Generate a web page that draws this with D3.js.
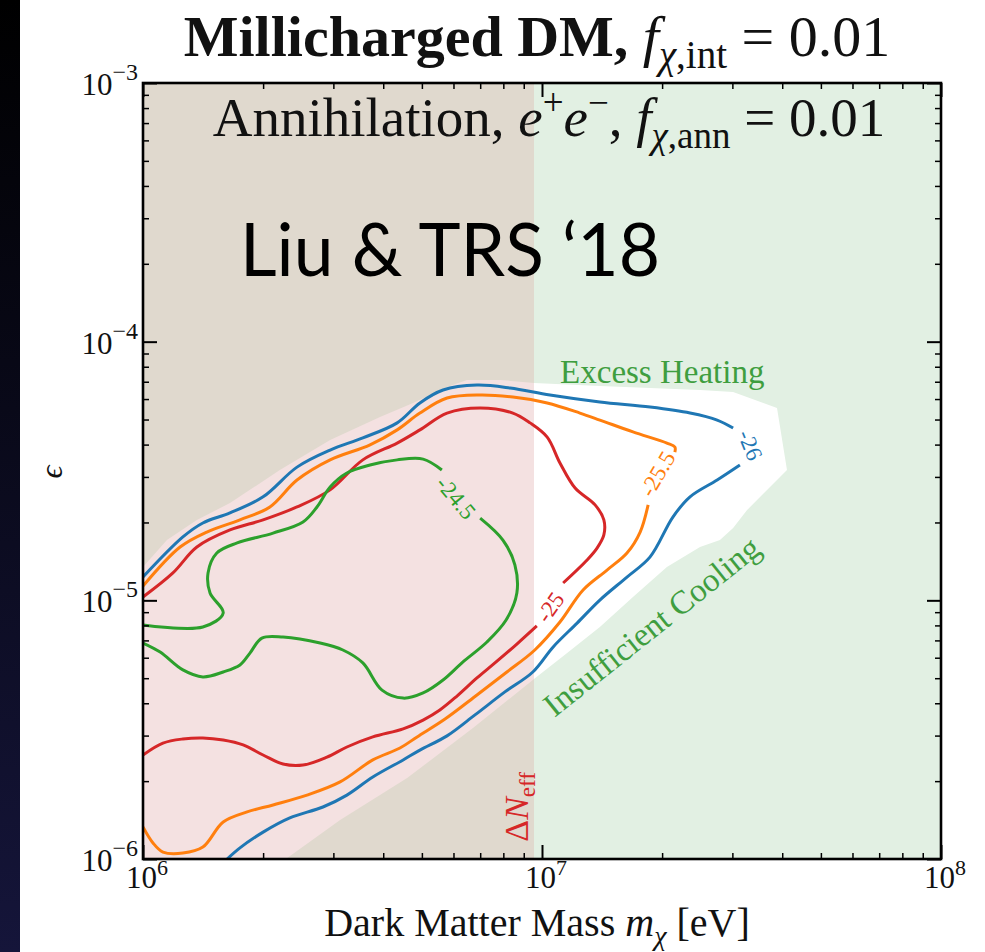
<!DOCTYPE html>
<html>
<head>
<meta charset="utf-8">
<script src="https://cdn.jsdelivr.net/npm/d3@7"></script>
<style>
  body { margin: 0; background: #fff; }
  svg { display: block; }
  text { font-family: "Liberation Serif", "DejaVu Serif", serif; }
</style>
</head>
<body>
<svg id="chart" width="985" height="952"></svg>
<script>
// ---- axis ticks ----
const xMajorTicks = [1e6, 1e7, 1e8];
const xTickExponents = ["6", "7", "8"];
const yMajorTicks = [1e-6, 1e-5, 1e-4, 1e-3];
const yTickExponents = ["\u22126", "\u22125", "\u22124", "\u22123"];

// ---- regions ----
// masses below this are excluded by Delta N_eff
const nEffMassBound = 9.55e6;

// allowed region outline, [log10 m/eV, log10 eps]
const allowedRegion = [
  [6.000,-4.871],[6.060,-4.767],[6.135,-4.689],[6.218,-4.624],[6.343,-4.496],[6.469,-4.380],
  [6.594,-4.291],[6.677,-4.237],[6.762,-4.175],[6.812,-4.148],[6.895,-4.148],[6.980,-4.160],
  [7.145,-4.171],[7.271,-4.179],[7.396,-4.187],[7.479,-4.195],[7.589,-4.256],[7.614,-4.496],
  [7.564,-4.573],[7.514,-4.651],[7.479,-4.720],[7.446,-4.767],[7.396,-4.794],[7.313,-4.871],
  [7.228,-4.987],[7.145,-5.103],[7.063,-5.204],[6.977,-5.308],[6.827,-5.494],[6.662,-5.687],
  [6.494,-5.849],[6.358,-6.000],[6.000,-6.000]
];

// ---- contours of log10 <sigma v>, [log10 m/eV, log10 eps]; null = label gap ----
const levels = ["-26", "-25.5", "-25", "-24.5"];
const levelColors = ["#1f77b4", "#ff7f0e", "#d62728", "#2ca02c"];

const contour260 = [
  [6.000,-4.910],[6.100,-4.755],[6.150,-4.701],[6.218,-4.662],[6.301,-4.600],[6.386,-4.485],
  [6.469,-4.419],[6.551,-4.372],[6.637,-4.314],[6.694,-4.237],[6.752,-4.187],[6.837,-4.168],
  [6.920,-4.179],[7.020,-4.206],[7.145,-4.233],[7.271,-4.253],[7.371,-4.276],[7.439,-4.303],
  [7.479,-4.334], null,
  [7.496,-4.477],[7.439,-4.535],[7.371,-4.600],[7.328,-4.678],[7.271,-4.832],[7.213,-4.910],
  [7.145,-4.999],[7.088,-5.088],[7.028,-5.180],[6.977,-5.277],[6.907,-5.354],[6.832,-5.443],
  [6.762,-5.524],[6.694,-5.579],[6.652,-5.617],[6.576,-5.683],[6.511,-5.753],[6.451,-5.799],
  [6.368,-5.841],[6.301,-5.896],[6.243,-5.957],[6.211,-6.000]
];

const contour255 = [
  [6.000,-4.945],[6.093,-4.794],[6.160,-4.736],[6.243,-4.689],[6.318,-4.639],[6.386,-4.535],
  [6.469,-4.457],[6.569,-4.399],[6.637,-4.341],[6.694,-4.276],[6.762,-4.218],[6.845,-4.206],
  [6.927,-4.214],[7.013,-4.237],[7.095,-4.276],[7.145,-4.303],[7.228,-4.349],[7.313,-4.392],
  [7.333,-4.407],[7.333,-4.427], null,
  [7.266,-4.631],[7.246,-4.736],[7.213,-4.817],[7.163,-4.883],[7.103,-4.960],[7.045,-5.084],
  [6.982,-5.192],[6.912,-5.277],[6.837,-5.366],[6.757,-5.459],[6.687,-5.528],[6.644,-5.571],
  [6.576,-5.617],[6.494,-5.702],[6.411,-5.753],[6.326,-5.791],[6.261,-5.818],[6.201,-5.857],
  [6.150,-5.954],[6.100,-5.977],[6.050,-5.973],[6.025,-5.938],[6.000,-5.876]
];

const contour250 = [
  [6.000,-4.987],[6.075,-4.894],[6.135,-4.794],[6.218,-4.728],[6.301,-4.689],[6.386,-4.639],
  [6.469,-4.573],[6.551,-4.457],[6.637,-4.392],[6.694,-4.341],[6.762,-4.276],[6.845,-4.256],
  [6.927,-4.276],[6.970,-4.314],[7.013,-4.369],[7.045,-4.469],[7.083,-4.566],[7.133,-4.631],
  [7.155,-4.689],[7.155,-4.747],[7.138,-4.798],[7.113,-4.844],[7.053,-4.933], null,
  [6.987,-5.099],[6.937,-5.169],[6.882,-5.242],[6.837,-5.300],[6.787,-5.370],[6.744,-5.424],
  [6.702,-5.463],[6.652,-5.497],[6.576,-5.528],[6.511,-5.567],[6.461,-5.606],[6.401,-5.637],
  [6.351,-5.633],[6.301,-5.598],[6.251,-5.559],[6.201,-5.540],[6.150,-5.532],[6.100,-5.536],
  [6.050,-5.552],[6.000,-5.598]
];

const contour245 = [
  [6.000,-5.095],[6.150,-5.103],[6.201,-5.049],[6.168,-4.972],[6.163,-4.894],[6.185,-4.817],
  [6.236,-4.778],[6.326,-4.740],[6.401,-4.697],[6.436,-4.639],[6.469,-4.562],[6.511,-4.508],
  [6.569,-4.477],[6.637,-4.457],[6.702,-4.454],[6.749,-4.496], null,
  [6.845,-4.682],[6.902,-4.767],[6.932,-4.863],[6.937,-4.972],[6.910,-5.076],[6.862,-5.161],
  [6.802,-5.238],[6.752,-5.308],[6.702,-5.358],[6.652,-5.378],[6.599,-5.347],[6.551,-5.242],
  [6.501,-5.192],[6.444,-5.165],[6.351,-5.142],[6.298,-5.146],[6.268,-5.204],[6.243,-5.250],
  [6.201,-5.277],[6.150,-5.296],[6.100,-5.269],[6.043,-5.200],[6.000,-5.165]
];

const contours = [contour260, contour255, contour250, contour245];

// ---- layout ----
const W = 985, H = 952;
const plot = { left: 143, right: 941, top: 83, bottom: 859 };

const svg = d3.select("#chart");

// slide edge on the left
const defs = svg.append("defs");
const edge = defs.append("linearGradient").attr("id", "edgeGrad")
  .attr("x1", 0).attr("y1", 0).attr("x2", 0).attr("y2", 1);
edge.append("stop").attr("offset", "0%").attr("stop-color", "#000000");
edge.append("stop").attr("offset", "100%").attr("stop-color", "#15153a");
svg.append("rect").attr("x", 0).attr("y", 0).attr("width", 20).attr("height", H)
  .attr("fill", "url(#edgeGrad)");

const x = d3.scaleLog().domain([1e6, 1e8]).range([plot.left, plot.right]);
const y = d3.scaleLog().domain([1e-6, 1e-3]).range([plot.bottom, plot.top]);
const pt = d => [x(Math.pow(10, d[0])), y(Math.pow(10, d[1]))];

// clip paths
defs.append("clipPath").attr("id", "plotClip").append("rect")
  .attr("x", plot.left).attr("y", plot.top)
  .attr("width", plot.right - plot.left).attr("height", plot.bottom - plot.top);
defs.append("clipPath").attr("id", "nEffClip").append("rect")
  .attr("x", plot.left).attr("y", plot.top)
  .attr("width", x(nEffMassBound) - plot.left).attr("height", plot.bottom - plot.top);
defs.append("clipPath").attr("id", "heavyClip").append("rect")
  .attr("x", x(nEffMassBound)).attr("y", plot.top)
  .attr("width", plot.right - x(nEffMassBound)).attr("height", plot.bottom - plot.top);

const g = svg.append("g").attr("clip-path", "url(#plotClip)");

// excluded regions
g.append("rect").attr("x", x(1e6)).attr("y", y(1e-3))
  .attr("width", x(nEffMassBound) - x(1e6)).attr("height", y(1e-6) - y(1e-3))
  .attr("fill", "#e0d9ce");
g.append("rect").attr("x", x(nEffMassBound)).attr("y", y(1e-3))
  .attr("width", x(1e8) - x(nEffMassBound)).attr("height", y(1e-6) - y(1e-3))
  .attr("fill", "#e2f0e3");

// allowed region: tinted where N_eff applies, white elsewhere
const area = d3.line().x(d => pt(d)[0]).y(d => pt(d)[1]);
g.append("path").attr("d", area(allowedRegion) + "Z")
  .attr("fill", "#f4e1e1").attr("clip-path", "url(#nEffClip)");
g.append("path").attr("d", area(allowedRegion) + "Z")
  .attr("fill", "#ffffff").attr("clip-path", "url(#heavyClip)");

// contour lines
const line = d3.line().defined(d => d !== null)
  .x(d => pt(d)[0]).y(d => pt(d)[1]).curve(d3.curveCatmullRom.alpha(0.5));
contours.forEach((c, i) => {
  g.append("path").attr("d", line(c)).attr("fill", "none")
    .attr("stroke", levelColors[i]).attr("stroke-width", 3)
    .attr("stroke-linejoin", "round").attr("stroke-linecap", "butt");
});

// inline contour labels
const inlineLabels = [
  { level: 0, m: 3.32e7, e: 3.98e-5, angle: 68 },
  { level: 1, m: 1.95e7, e: 3.08e-5, angle: -60 },
  { level: 2, m: 1.05e7, e: 9.4e-6, angle: -55 },
  { level: 3, m: 6.08e6, e: 2.49e-5, angle: 50 }
];
inlineLabels.forEach(l => {
  g.append("text")
    .attr("transform", `translate(${x(l.m)},${y(l.e)}) rotate(${l.angle})`)
    .attr("text-anchor", "middle").attr("dominant-baseline", "central")
    .attr("font-size", 23).attr("fill", levelColors[l.level])
    .text(levels[l.level]);
});

// region names
g.append("text").attr("x", x(1.11e7)).attr("y", y(6.92e-5))
  .attr("font-size", 33).attr("fill", "#3f9e3f").text("Excess Heating");
g.append("text")
  .attr("transform", `translate(${x(1.96e7)},${y(7.35e-6)}) rotate(-38.6)`)
  .attr("text-anchor", "middle").attr("font-size", 33).attr("fill", "#3f9e3f")
  .text("Insufficient Cooling");
const nEff = g.append("text")
  .attr("transform", `translate(${x(9.22e6)},${y(1.59e-6)}) rotate(-90)`)
  .attr("text-anchor", "middle").attr("font-size", 34).attr("fill", "#d62728");
nEff.append("tspan").text("\u0394");
nEff.append("tspan").attr("font-style", "italic").text("N");
nEff.append("tspan").attr("font-size", 23).attr("dy", 7).text("eff");

// ---- axes: inward ticks on all four sides ----
const xMinor = [], yMinor = [];
[1e6, 1e7].forEach(d => { for (let k = 2; k <= 9; k++) xMinor.push(k * d); });
[1e-6, 1e-5, 1e-4].forEach(d => { for (let k = 2; k <= 9; k++) yMinor.push(k * d); });

function drawAxis(axis, tx, ty, width) {
  const a = svg.append("g").attr("transform", `translate(${tx},${ty})`).call(axis);
  a.select(".domain").remove();
  a.selectAll("line").attr("stroke", "#000").attr("stroke-width", width);
  a.selectAll("text").remove();
}
[[xMajorTicks, 14, 2], [xMinor, 6, 1.5]].forEach(([vals, len, w]) => {
  drawAxis(d3.axisBottom(x).tickValues(vals).tickSize(-len).tickFormat(""), 0, plot.bottom, w);
  drawAxis(d3.axisTop(x).tickValues(vals).tickSize(-len).tickFormat(""), 0, plot.top, w);
});
[[yMajorTicks, 14, 2], [yMinor, 6, 1.5]].forEach(([vals, len, w]) => {
  drawAxis(d3.axisLeft(y).tickValues(vals).tickSize(-len).tickFormat(""), plot.left, 0, w);
  drawAxis(d3.axisRight(y).tickValues(vals).tickSize(-len).tickFormat(""), plot.right, 0, w);
});

// frame
svg.append("rect").attr("x", plot.left).attr("y", plot.top)
  .attr("width", plot.right - plot.left).attr("height", plot.bottom - plot.top)
  .attr("fill", "none").attr("stroke", "#000").attr("stroke-width", 2.6);

// tick labels
xMajorTicks.forEach((v, i) => {
  const t = svg.append("text").attr("x", x(v) + 4).attr("y", plot.bottom + 29)
    .attr("text-anchor", "middle").attr("font-size", 31).attr("fill", "#111");
  t.append("tspan").text("10");
  t.append("tspan").attr("font-size", 22).attr("dy", -13).text(xTickExponents[i]);
});
yMajorTicks.forEach((v, i) => {
  const t = svg.append("text").attr("x", plot.left - 5).attr("y", y(v) + 12)
    .attr("text-anchor", "end").attr("font-size", 31).attr("fill", "#111");
  t.append("tspan").text("10");
  t.append("tspan").attr("font-size", 24).attr("dy", -15).text(yTickExponents[i]);
});

// axis titles
const xl = svg.append("text").attr("x", 537).attr("y", 936)
  .attr("text-anchor", "middle").attr("font-size", 40).attr("fill", "#111");
xl.append("tspan").text("Dark Matter Mass ");
xl.append("tspan").attr("font-style", "italic").text("m");
xl.append("tspan").attr("font-style", "italic").attr("font-size", 28).attr("dy", 9).text("\u03c7");
xl.append("tspan").attr("dy", -9).text(" [eV]");

svg.append("text").attr("transform", "translate(62,472) rotate(-90)")
  .attr("text-anchor", "middle").attr("font-size", 32).attr("fill", "#111")
  .attr("font-style", "italic").text("\u03f5");

// title
const title = svg.append("text").attr("x", 537).attr("y", 56)
  .attr("text-anchor", "middle").attr("font-size", 58).attr("fill", "#111");
title.append("tspan").attr("font-weight", "bold").text("Millicharged DM, ");
title.append("tspan").attr("font-style", "italic").text("f");
title.append("tspan").attr("font-size", 39).attr("dy", 12).attr("font-style", "italic").text("\u03c7");
title.append("tspan").attr("font-size", 39).text(",int");
title.append("tspan").attr("dy", -12).text(" = 0.01");

// annihilation channel note
const note = svg.append("text").attr("x", 549).attr("y", 136)
  .attr("text-anchor", "middle").attr("font-size", 55).attr("fill", "#111");
note.append("tspan").text("Annihilation, ");
note.append("tspan").attr("font-style", "italic").text("e");
note.append("tspan").attr("font-size", 37).attr("dy", -21).text("+");
note.append("tspan").attr("font-style", "italic").attr("dy", 21).text("e");
note.append("tspan").attr("font-size", 37).attr("dy", -21).text("\u2212");
note.append("tspan").attr("dy", 21).text(", ");
note.append("tspan").attr("font-style", "italic").text("f");
note.append("tspan").attr("font-size", 37).attr("dy", 12).attr("font-style", "italic").text("\u03c7");
note.append("tspan").attr("font-size", 37).text(",ann");
note.append("tspan").attr("dy", -12).text(" = 0.01");

// citation
svg.append("text").attr("x", 240).attr("y", 276)
  .style("font-family", "Lato, 'Open Sans', sans-serif")
  .attr("font-size", 74).attr("fill", "#000")
  .attr("textLength", 420).attr("lengthAdjust", "spacingAndGlyphs")
  .text("Liu & TRS \u201818");
</script>
</body>
</html>
